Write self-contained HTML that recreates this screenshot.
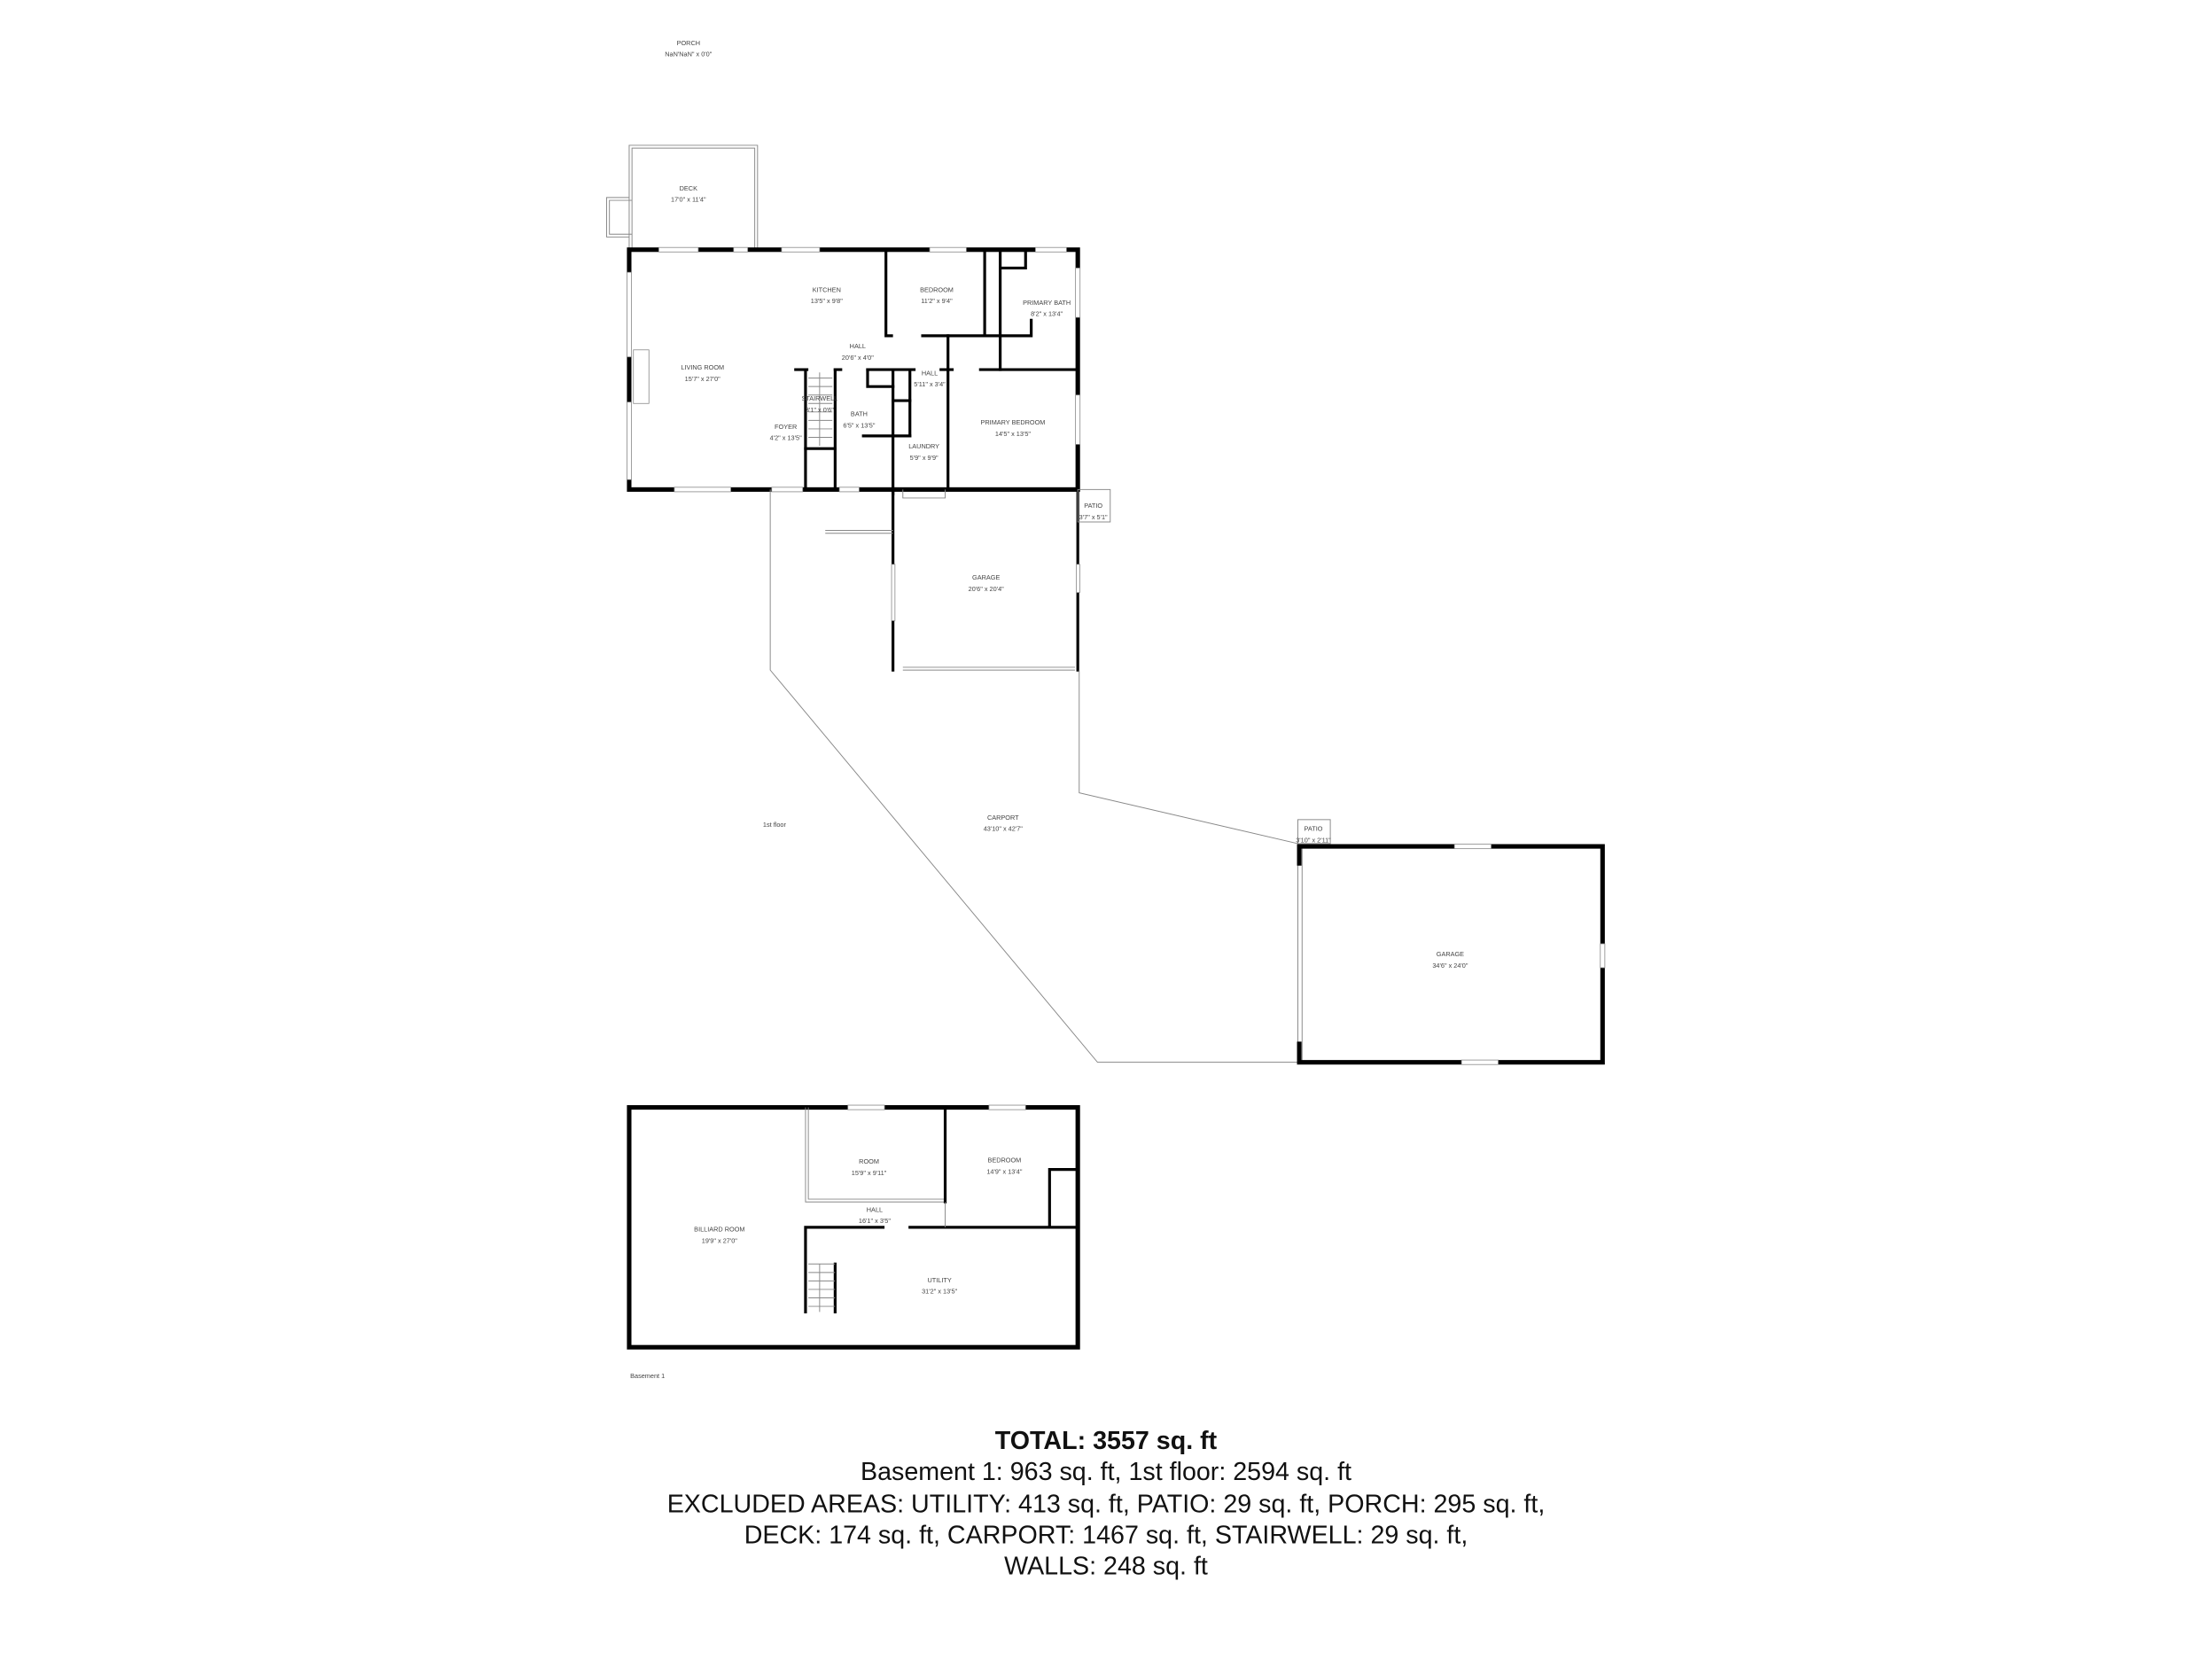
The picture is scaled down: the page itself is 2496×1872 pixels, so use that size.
<!DOCTYPE html>
<html><head><meta charset="utf-8"><style>
html,body{margin:0;padding:0;background:#fff}
svg{display:block}
.l{font-family:"Liberation Sans",sans-serif;font-size:4.6px;fill:#444;text-anchor:middle}
.w{stroke:#000;stroke-width:3.2;fill:none;stroke-linecap:square}
.iw{stroke:#000;stroke-width:2;fill:none;stroke-linecap:square}
.t{stroke:#888;stroke-width:0.6;fill:none}
.win{fill:#fff;stroke:#888;stroke-width:0.5}
.tot{font-family:"Liberation Sans",sans-serif;font-size:18px;fill:#111;text-anchor:middle}
</style></head><body>
<svg width="2496" height="1872" viewBox="0 0 1568 1176" preserveAspectRatio="none" xmlns="http://www.w3.org/2000/svg">
<rect width="1568" height="1176" fill="#fff"/>
<text class="l" x="488" y="32">PORCH</text><text class="l" x="488" y="40">NaN'NaN" x 0'0"</text>
<!-- deck -->
<path class="t" d="M446 177 V140 H430 V168 H446 M446 140 V103 H537 V177"/>
<path class="t" d="M448 177 V142 H432 V166 H448 M448 142 V105 H535 V177"/>
<text class="l" x="488" y="135">DECK</text><text class="l" x="488" y="143">17'0" x 11'4"</text>
<!-- main house -->
<rect class="w" x="446" y="177" width="318" height="170"/>
<rect class="win" x="467" y="175.4" width="28" height="3.2"/><rect class="win" x="520" y="175.4" width="10" height="3.2"/>
<rect class="win" x="554" y="175.4" width="27" height="3.2"/><rect class="win" x="659" y="175.4" width="26" height="3.2"/><rect class="win" x="734" y="175.4" width="22" height="3.2"/>
<rect class="win" x="444.4" y="193" width="3.2" height="60"/><rect class="win" x="444.4" y="285" width="3.2" height="55"/>
<rect class="win" x="762.4" y="190" width="3.2" height="35"/><rect class="win" x="762.4" y="280" width="3.2" height="35"/>
<rect class="win" x="478" y="345.4" width="40" height="3.2"/><rect class="win" x="547" y="345.4" width="22" height="3.2"/><rect class="win" x="595" y="345.4" width="14" height="3.2"/>
<rect x="449" y="248" width="11" height="38" fill="#fff" stroke="#888" stroke-width="0.5"/>
<g class="iw">
<path d="M628 177 V238 H632 M654 238 H731 V227"/>
<path d="M698 177 V238"/><path d="M709 177 V262"/><path d="M709 190 H727 V177"/>
<path d="M672 238 V346"/>
<path d="M564 262 H572 M592 262 H596 M615 262 H648 M667 262 H675 M695 262 H762"/>
<path d="M571 262 V346"/><path d="M592 262 V346"/><path d="M571 318 H592"/>
<path d="M633 262 V350"/><path d="M615 262 V274 H633"/>
<path d="M645 262 V309"/><path d="M633 284 H645"/><path d="M612 309 H645"/>
<path d="M633 347 V475"/>
<path d="M764 347 V475"/>
</g>
<rect class="win" x="632" y="400" width="2.4" height="40"/><rect class="win" x="763" y="400" width="2.4" height="20"/>
<g class="t"><path d="M573 268 H590 M573 274 H590 M573 280 H590 M573 286 H590 M573 292 H590 M573 298 H590 M573 304 H590 M573 310 H590 M581 264 V316"/>
<path d="M640 347 V353 H670 V347"/><path d="M640 473 H762 M640 475 H762"/>
<rect x="764" y="347" width="23" height="23"/>
<path d="M546 347 V475 L778 753 H920 M765 475 V562 L920 598"/>
<path d="M585 376 H633 M585 378 H633"/>
<rect x="920" y="581" width="23" height="17"/>
<path d="M920 600 V753 M923 600 V753"/>
</g>
<text class="l" x="586" y="207">KITCHEN</text><text class="l" x="586" y="215">13'5" x 9'8"</text>
<text class="l" x="664" y="207">BEDROOM</text><text class="l" x="664" y="215">11'2" x 9'4"</text>
<text class="l" x="742" y="216">PRIMARY BATH</text><text class="l" x="742" y="224">8'2" x 13'4"</text>
<text class="l" x="608" y="247">HALL</text><text class="l" x="608" y="255">20'6" x 4'0"</text>
<text class="l" x="498" y="262">LIVING ROOM</text><text class="l" x="498" y="270">15'7" x 27'0"</text>
<text class="l" x="659" y="266">HALL</text><text class="l" x="659" y="274">5'11" x 3'4"</text>
<text class="l" x="581" y="284">STAIRWELL</text><text class="l" x="581" y="292">3'1" x 0'6"</text>
<text class="l" x="609" y="295">BATH</text><text class="l" x="609" y="303">6'5" x 13'5"</text>
<text class="l" x="557" y="304">FOYER</text><text class="l" x="557" y="312">4'2" x 13'5"</text>
<text class="l" x="718" y="301">PRIMARY BEDROOM</text><text class="l" x="718" y="309">14'5" x 13'5"</text>
<text class="l" x="655" y="318">LAUNDRY</text><text class="l" x="655" y="326">5'9" x 9'9"</text>
<text class="l" x="775" y="360">PATIO</text><text class="l" x="775" y="368">3'7" x 5'1"</text>
<text class="l" x="699" y="411">GARAGE</text><text class="l" x="699" y="419">20'6" x 20'4"</text>
<text class="l" x="549" y="586">1st floor</text>
<text class="l" x="711" y="581">CARPORT</text><text class="l" x="711" y="589">43'10" x 42'7"</text>
<text class="l" x="931" y="589">PATIO</text><text class="l" x="931" y="597">3'10" x 2'11"</text>
<!-- garage 2 -->
<path class="w" d="M921 600 V612 M921 740 V753 H1136 V600 H921"/>
<rect class="win" x="1031" y="598.4" width="26" height="3.2"/><rect class="win" x="1036" y="751.4" width="26" height="3.2"/><rect class="win" x="1134.4" y="669" width="3.2" height="17"/>
<text class="l" x="1028" y="678">GARAGE</text><text class="l" x="1028" y="686">34'6" x 24'0"</text>
<!-- basement -->
<rect class="w" x="446" y="785" width="318" height="170"/>
<rect class="win" x="601" y="783.4" width="26" height="3.2"/><rect class="win" x="701" y="783.4" width="26" height="3.2"/>
<path class="t" d="M571 785 V852 H669 M573 785 V850 H669"/>
<g class="iw"><path d="M670 785 V852"/><path d="M571 870 V930 M571 870 H626 M645 870 H764"/><path d="M744 870 V829 H764"/><path d="M592 896 V930"/></g>
<path class="t" d="M573 896 H592 M573 902 H592 M573 908 H592 M573 914 H592 M573 920 H592 M573 926 H592 M581 896 V930 M670 852 V870"/>
<text class="l" x="616" y="825">ROOM</text><text class="l" x="616" y="833">15'9" x 9'11"</text>
<text class="l" x="712" y="824">BEDROOM</text><text class="l" x="712" y="832">14'9" x 13'4"</text>
<text class="l" x="620" y="859">HALL</text><text class="l" x="620" y="867">16'1" x 3'5"</text>
<text class="l" x="510" y="873">BILLIARD ROOM</text><text class="l" x="510" y="881">19'9" x 27'0"</text>
<text class="l" x="666" y="909">UTILITY</text><text class="l" x="666" y="917">31'2" x 13'5"</text>
<text class="l" x="459" y="977">Basement 1</text>
<text class="tot" x="784" y="1027" font-weight="bold">TOTAL: 3557 sq. ft</text>
<text class="tot" x="784" y="1049">Basement 1: 963 sq. ft, 1st floor: 2594 sq. ft</text>
<text class="tot" x="784" y="1072">EXCLUDED AREAS: UTILITY: 413 sq. ft, PATIO: 29 sq. ft, PORCH: 295 sq. ft,</text>
<text class="tot" x="784" y="1094">DECK: 174 sq. ft, CARPORT: 1467 sq. ft, STAIRWELL: 29 sq. ft,</text>
<text class="tot" x="784" y="1116">WALLS: 248 sq. ft</text>
</svg>
</body></html>
